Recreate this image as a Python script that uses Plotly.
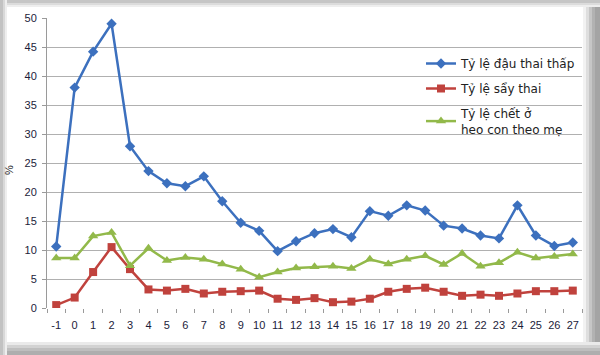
import plotly.graph_objects as go

categories = list(range(-1, 28))
tick_labels = [str(c) for c in categories]

ty_le_dau_thai_thap = [10.6, 38.0, 44.2, 49.0, 27.9, 23.6, 21.5, 21.0, 22.7, 18.4,
                       14.7, 13.3, 9.8, 11.5, 12.9, 13.6, 12.2, 16.7, 15.9, 17.7,
                       16.8, 14.2, 13.7, 12.5, 12.0, 17.7, 12.5, 10.7, 11.3]
ty_le_say_thai = [0.5, 1.8, 6.2, 10.5, 6.7, 3.2, 3.0, 3.3, 2.5, 2.8,
                  2.9, 3.0, 1.6, 1.4, 1.7, 1.0, 1.1, 1.6, 2.8, 3.3,
                  3.5, 2.8, 2.1, 2.3, 2.1, 2.5, 2.9, 2.9, 3.0]
ty_le_chet = [8.6, 8.6, 12.4, 13.0, 7.3, 10.3, 8.2, 8.7, 8.4, 7.6,
              6.7, 5.3, 6.2, 6.9, 7.1, 7.2, 6.8, 8.4, 7.6, 8.4,
              9.0, 7.5, 9.4, 7.2, 7.8, 9.6, 8.6, 8.9, 9.3]

series_names = ["Tỷ lệ đậu thai thấp", "Tỷ lệ sẩy thai", "Tỷ lệ chết ở<br>heo con theo mẹ"]

W, H = 600, 355
ML, MR, MT, MB = 47, 18, 18, 47
PW, PH = W - ML - MR, H - MT - MB


def px(x):
    return (x - ML) / PW


def py(y):
    return (H - MB - y) / PH


fig = go.Figure()

fig.add_trace(go.Scatter(
    x=categories, y=ty_le_dau_thai_thap, name=series_names[0], mode="lines+markers",
    legendgroup="a",
    line=dict(color="#3c70be", width=2.5),
    marker=dict(symbol="diamond", size=8, color="#3c70be")))
fig.add_trace(go.Scatter(
    x=categories, y=ty_le_say_thai, name=series_names[1], mode="lines+markers",
    legendgroup="b",
    line=dict(color="#c0423d", width=2.5),
    marker=dict(symbol="square", size=8, color="#c0423d")))
fig.add_trace(go.Scatter(
    x=categories, y=ty_le_chet, name=series_names[2], mode="lines+markers",
    legendgroup="c",
    line=dict(color="#92b94a", width=2.5),
    marker=dict(symbol="triangle-up", size=9, color="#92b94a")))

# frame shadow strips (styling)
shapes = []


def strip(x0, y0, x1, y1, color):
    shapes.append(dict(type="rect", xref="paper", yref="paper",
                       x0=px(x0), x1=px(x1), y0=py(y1), y1=py(y0),
                       fillcolor=color, line=dict(width=0), layer="below"))


right = [(583, "#f2f2f2"), (586, "#dedede"), (589, "#c6c6c6"), (592, "#b2b2b2"), (595, "#a4a4a4")]
for x0, c in right:
    strip(x0, 0, W, H, c)
bottom = [(342, "#eaeaea"), (345, "#d2d2d2"), (348, "#bebebe"), (351, "#aeaeae")]
for y0, c in bottom:
    strip(0, y0, W, H, c)
top = [(7, "#eeeeee"), (5, "#dcdcdc"), (3, "#c6c6c6")]
for y1, c in top:
    strip(0, 0, W, y1, c)
left = [(7, "#eeeeee"), (5, "#d8d8d8"), (3, "#c2c2c2")]
for x1, c in left:
    strip(0, 0, x1, H, c)

fig.update_layout(
    width=W, height=H,
    margin=dict(l=ML, r=MR, t=MT, b=MB, autoexpand=False),
    paper_bgcolor="white", plot_bgcolor="rgba(0,0,0,0)",
    font=dict(family="Liberation Sans, Arial, sans-serif", size=11, color="#1c1c3a"),
    shapes=shapes,
    showlegend=True,
    legend=dict(x=px(421), y=py(49), xanchor="left", yanchor="top",
                bgcolor="rgba(0,0,0,0)",
                font=dict(family="DejaVu Sans, Verdana, sans-serif", size=12, color="#222222"),
                traceorder="grouped", tracegroupgap=6, itemwidth=30),
    xaxis=dict(range=[-1.5, 27.5], tickmode="array", tickvals=categories, ticktext=tick_labels,
               showgrid=False, zeroline=False, showline=False, ticks="", automargin=False,
               ticklabelstandoff=9,
               tickfont=dict(size=11, color="#1c1c3a"),
               minor=dict(ticks="outside", tick0=-0.5, dtick=1, ticklen=4, tickcolor="#9a9a9a", showgrid=False)),
    yaxis=dict(range=[0, 50], dtick=5, showgrid=True, gridcolor="#b0b0b0", gridwidth=1,
               zeroline=False, showline=True, linecolor="#9a9a9a", linewidth=1, automargin=False,
               ticks="outside", ticklen=4, tickcolor="#9a9a9a", ticklabelstandoff=3,
               tickfont=dict(size=11, color="#1c1c3a")),
    annotations=[dict(text="%", xref="paper", yref="paper", x=px(9), y=py(170),
                      xanchor="center", yanchor="middle", textangle=-90, showarrow=False,
                      font=dict(size=11, color="#222222"))],
)

fig.write_html("out.html", config={"displayModeBar": False},
               post_script="document.body.style.margin='0';document.body.style.overflow='hidden';")
